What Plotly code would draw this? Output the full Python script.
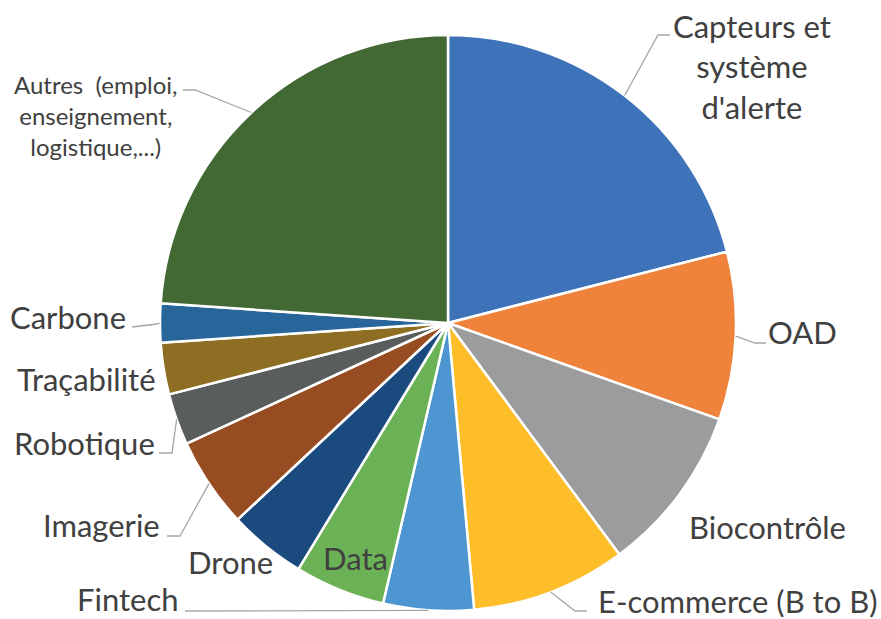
import math
import plotly.graph_objects as go

# ---- data ----
categories = ["Capteurs et système d'alerte", "OAD", "Biocontrôle", "E-commerce (B to B)",
              "Fintech", "Data", "Drone", "Imagerie", "Robotique", "Traçabilité", "Carbone",
              "Autres  (emploi, enseignement, logistique,...)"]
values = [29, 13, 13, 12, 7, 7, 6, 7, 4, 4, 3, 33]
label_texts = ["Capteurs et<br>système<br>d'alerte", "OAD", "Biocontrôle", "E-commerce (B to B)",
               "Fintech", "Data", "Drone", "Imagerie", "Robotique", "Traçabilité", "Carbone",
               "Autres  (emploi,<br>enseignement,<br>logistique,...)"]
colors = ["#3E73BA", "#F0833C", "#9A9C9D", "#FDBE2A", "#4E96D2", "#6BB256",
          "#1B4B7E", "#974C21", "#5A5D5E", "#8E6E22", "#27659A", "#426934"]

# ---- layout (pixels) ----
W, H = 881, 619
CX, CY, R = 448, 323, 288
# label centre (px) and leader elbow/end points (px) or None
label_layout = [
    ((752, 66), [(658, 35), (670, 35)]),
    ((802, 332), [(755, 343), (766, 343)]),
    ((767, 527), None),
    ((737, 601), [(575, 611), (587, 611)]),
    ((128, 599), [(197, 611), (185, 611)]),
    ((355, 558), None),
    ((230, 562), None),
    ((101, 525), [(180, 536), (167, 536)]),
    ((84, 443), [(172, 453), (159, 453)]),
    ((86, 379), None),
    ((68, 317), [(157, 324), (132, 327)]),
    ((96, 115), [(195, 90), (183, 90)]),
]
font_sizes = [31] * 11 + [24]


def px(x, y):
    return x / W, 1 - y / H


fig = go.Figure(go.Pie(
    labels=categories, values=values, sort=False, direction="clockwise", rotation=0,
    marker=dict(colors=colors, line=dict(color="white", width=2.5)),
    textinfo="none", hoverinfo="label+value",
    domain=dict(x=[(CX - R) / W, (CX + R) / W], y=[1 - (CY + R) / H, 1 - (CY - R) / H]),
))

total = sum(values)
cum = 0
shapes = []
annotations = []
for i, v in enumerate(values):
    mid = (cum + v / 2) / total * 2 * math.pi
    cum += v
    ex, ey = CX + R * math.sin(mid), CY - R * math.cos(mid)
    (lx, ly), leader = label_layout[i]
    if leader:
        pts = [(ex, ey)] + leader
        path = "M " + " L ".join("%f,%f" % px(x, y) for x, y in pts)
        shapes.append(dict(type="path", xref="paper", yref="paper", path=path,
                           line=dict(color="#A6A6A6", width=1.3)))
    ax, ay = px(lx, ly)
    annotations.append(dict(x=ax, y=ay, xref="paper", yref="paper", text=label_texts[i],
                            showarrow=False, xanchor="center", yanchor="middle", align="center",
                            font=dict(family="Lato", size=font_sizes[i], color="#404040")))

fig.update_layout(width=W, height=H, margin=dict(l=0, r=0, t=0, b=0), showlegend=False,
                  paper_bgcolor="white", shapes=shapes, annotations=annotations)
fig.write_html("out.html", config={"displayModeBar": False},
               post_script="document.body.style.margin='0';document.body.style.overflow='hidden';")
